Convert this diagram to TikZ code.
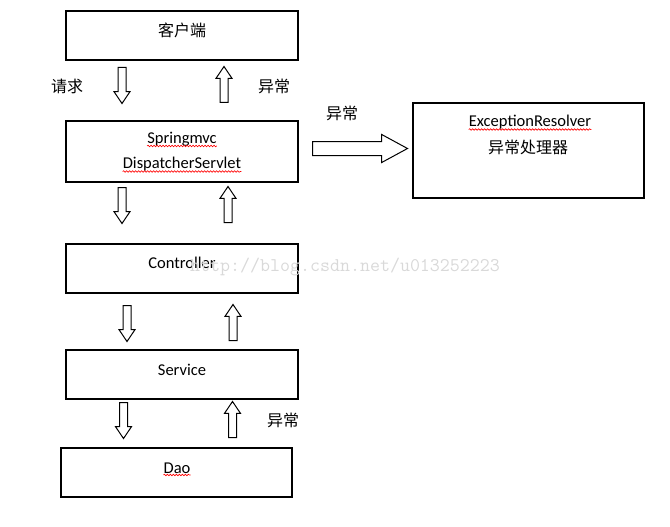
\documentclass[tikz,border=0pt]{standalone}
\usepackage{fontspec}
\setmainfont{Carlito}
\newfontfamily\cjk{Noto Sans CJK SC}
\usetikzlibrary{shapes.arrows,decorations.pathmorphing}
\tikzset{
  box/.style={draw,line width=1.3pt,inner sep=0pt},
  txt/.style={inner sep=0pt,font=\fontsize{16.5}{18}\selectfont},
  zh/.style={inner sep=0pt,font=\fontsize{16}{18}\selectfont\cjk},
  blk/.style={draw,line width=1pt,single arrow,inner xsep=0pt,inner ysep=3.5pt,
    single arrow head extend=4pt,minimum height=36pt,
    single arrow tip angle=68,anchor=tail},
  dnarr/.style={blk,rotate=-90},
  uparr/.style={blk,rotate=90},
  wavy/.style={red,line width=0.6pt,decorate,
    decoration={snake,amplitude=0.8pt,segment length=3pt}},
  wmark/.style={inner sep=0pt,gray!30,font=\ttfamily\fontsize{19.4}{20}\selectfont},
}
\begin{document}
\begin{tikzpicture}[x=1pt,y=-1pt]
\useasboundingbox (0,0) rectangle (670,527);
% boxes
\node[box,minimum width=232pt,minimum height=49pt] (client) at (182,35.5) {};
\node[box,minimum width=232pt,minimum height=61pt] (mvc) at (182,151.5) {};
\node[box,minimum width=231pt,minimum height=95pt] (resolver) at (528.5,150.5) {};
\node[box,minimum width=232pt,minimum height=49pt] (ctrl) at (182,268.5) {};
\node[box,minimum width=232pt,minimum height=49pt] (svc) at (182,374.5) {};
\node[box,minimum width=231pt,minimum height=49pt] (dao) at (176.5,472.5) {};
% texts in the boxes
\node[zh] (clientt) at (182,30) {客户端};
\node[txt,anchor=base] (spt) at (182,143.5) {Springmvc};
\node[txt,anchor=base] (dst) at (182,168.5) {DispatcherServlet};
\node[txt,anchor=base] (ert) at (530,127) {ExceptionResolver};
\node[zh] (ezh) at (528,147) {异常处理器};
\node[txt,anchor=base] (ctrlt) at (182,268) {Controller};
\node[txt,anchor=base] (svct) at (182,375) {Service};
\node[txt,anchor=base] (daot) at (177,473) {Dao};
\draw[wavy] ([yshift=-2.5pt]spt.base west) -- ([yshift=-2.5pt]spt.base east);
\draw[wavy] ([yshift=-3pt]dst.base west) -- ([yshift=-3pt]dst.base east);
\draw[wavy] ([yshift=-2.5pt]ert.base west) -- ([yshift=-2.5pt]ert.base east);
\draw[wavy] ([yshift=-2pt]daot.base west) -- ([yshift=-2pt]daot.base east);
% block arrows
\node[dnarr] (req1) at (122,67) {};
\node[uparr] (exc1) at (224,103) {};
\node[dnarr] (req2) at (122,187) {};
\node[uparr] (exc2) at (228,223) {};
\node[dnarr] (req3) at (127,305) {};
\node[uparr] (exc3) at (233,341) {};
\node[dnarr] (req4) at (123.5,402) {};
\node[uparr] (exc4) at (232.5,438) {};
\node[blk,inner ysep=6.5pt,minimum height=95pt,single arrow head extend=7pt,
  single arrow tip angle=57] (toRes) at (312,148.5) {};
% labels
\node[zh] (lreq) at (67,86) {请求};
\node[zh] (lexc1) at (274,86) {异常};
\node[zh] (lexc2) at (342,113) {异常};
\node[zh] (lexc4) at (283,420) {异常};
\node[wmark,anchor=base west] (wm) at (190,271) {http://blog.csdn.net/u013252223};
\end{tikzpicture}
\end{document}
